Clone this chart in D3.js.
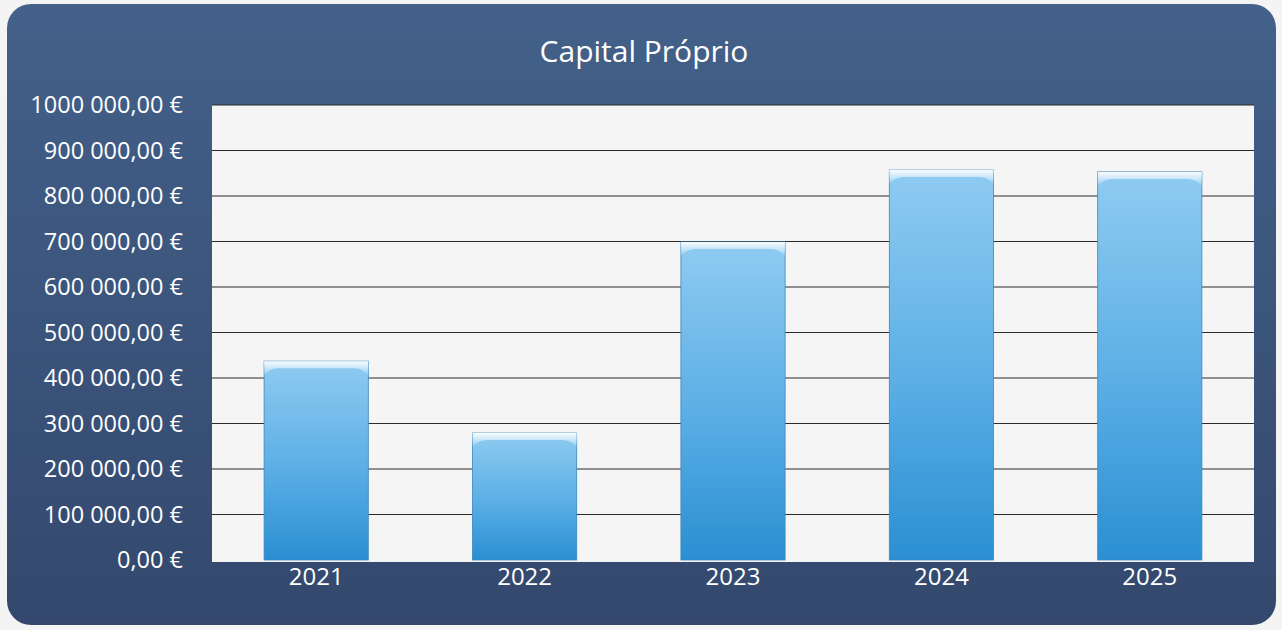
<!DOCTYPE html>
<html>
<head>
<meta charset="utf-8">
<script src="https://cdn.jsdelivr.net/npm/d3@7"></script>
<style>
  body { margin: 0; background: #f4f4f4; }
  svg { display: block; }
  text { font-family: "Open Sans", "Noto Sans", sans-serif; }
</style>
</head>
<body>
<div id="chart"></div>
<script>
const years = ["2021", "2022", "2023", "2024", "2025"];
const capital = [437000, 279000, 699000, 857000, 853000];
const yTicks = [0, 100000, 200000, 300000, 400000, 500000, 600000, 700000, 800000, 900000, 1000000];
const title = "Capital Próprio";

const dimension = {
    width: 1282,
    height: 630,
    margin: { top: 105, left: 212, bottom: 68, right: 28 }
};
dimension.boundedWidth = dimension.width - dimension.margin.left - dimension.margin.right;
dimension.boundedHeight = dimension.height - dimension.margin.top - dimension.margin.bottom;

const svg = d3.select("#chart").append("svg")
    .attr("width", dimension.width)
    .attr("height", dimension.height);

const defs = svg.append("defs");
const bg = defs.append("linearGradient").attr("id", "bg").attr("x1", 0).attr("y1", 0).attr("x2", 0).attr("y2", 1);
bg.append("stop").attr("offset", "0%").attr("stop-color", "#43618a");
bg.append("stop").attr("offset", "100%").attr("stop-color", "#34486d");

const barGrad = defs.append("linearGradient").attr("id", "bar").attr("x1", 0).attr("y1", 0).attr("x2", 0).attr("y2", 1);
barGrad.append("stop").attr("offset", "0%").attr("stop-color", "#8fcbf1");
barGrad.append("stop").attr("offset", "55%").attr("stop-color", "#5aaee5");
barGrad.append("stop").attr("offset", "100%").attr("stop-color", "#2a8fd2");

const shine = defs.append("linearGradient").attr("id", "shine").attr("x1", 0).attr("y1", 0).attr("x2", 0).attr("y2", 1);
shine.append("stop").attr("offset", "0%").attr("stop-color", "#ffffff").attr("stop-opacity", 0.95);
shine.append("stop").attr("offset", "100%").attr("stop-color", "#ffffff").attr("stop-opacity", 0.1);

svg.append("rect")
    .attr("x", 7).attr("y", 4)
    .attr("width", 1269).attr("height", 621)
    .attr("rx", 24).attr("ry", 24)
    .attr("fill", "url(#bg)");

svg.append("text")
    .attr("x", 644).attr("y", 62)
    .attr("text-anchor", "middle")
    .attr("fill", "#ffffff")
    .attr("font-size", 30)
    .text(title);

const bounded = svg.append("g")
    .attr("transform", `translate(${dimension.margin.left},${dimension.margin.top})`);

const xScaler = d3.scaleBand()
    .domain(years)
    .range([0, dimension.boundedWidth])
    .paddingInner(0.5)
    .paddingOuter(0.25);

const yScaler = d3.scaleLinear()
    .domain([0, 1000000])
    .range([dimension.boundedHeight - 2, 0]);

bounded.append("rect")
    .attr("width", dimension.boundedWidth)
    .attr("height", dimension.boundedHeight)
    .attr("fill", "#f5f5f5");

const euro = v => d3.format(",.2f")(v).replace(/,/g, " ").replace(".", ",").replace(/^1 000 000/, "1000 000") + " €";

bounded.append("g")
    .call(d3.axisLeft(yScaler).tickValues(yTicks).tickFormat(euro).tickSize(0).tickPadding(29))
    .call(g => g.select(".domain").remove())
    .call(g => g.selectAll("text").attr("fill", "#ffffff").attr("font-size", 23.5).attr("font-family", "'Open Sans', sans-serif"));

bounded.append("g")
    .selectAll("line")
    .data(yTicks.filter(t => t > 0))
    .join("line")
    .attr("x1", 0).attr("x2", dimension.boundedWidth)
    .attr("y1", d => yScaler(d)).attr("y2", d => yScaler(d))
    .attr("stroke", "#2b2b2b")
    .attr("stroke-width", 1.2);

const bars = bounded.append("g")
    .selectAll("g")
    .data(capital)
    .join("g");

bars.append("rect")
    .attr("x", (d, i) => xScaler(years[i]))
    .attr("y", d => yScaler(d))
    .attr("width", xScaler.bandwidth())
    .attr("height", d => yScaler(0) - yScaler(d))
    .attr("fill", "url(#bar)")
    .attr("stroke", "#3b86c0")
    .attr("stroke-width", 0.8);

bars.append("path")
    .attr("d", (d, i) => {
        const x0 = xScaler(years[i]), x1 = x0 + xScaler.bandwidth(), y0 = yScaler(d);
        return `M${x0},${y0}L${x1},${y0}L${x1},${y0 + 14}Q${x1 - 6},${y0 + 7} ${x1 - 14},${y0 + 7}L${x0 + 14},${y0 + 7}Q${x0 + 6},${y0 + 7} ${x0},${y0 + 14}Z`;
    })
    .attr("fill", "url(#shine)");

bounded.append("g")
    .attr("transform", `translate(0,${dimension.boundedHeight})`)
    .call(d3.axisBottom(xScaler).tickSize(0).tickPadding(6))
    .call(g => g.select(".domain").remove())
    .call(g => g.selectAll("text").attr("fill", "#ffffff").attr("font-size", 24).attr("font-family", "'Open Sans', sans-serif"));
</script>
</body>
</html>
